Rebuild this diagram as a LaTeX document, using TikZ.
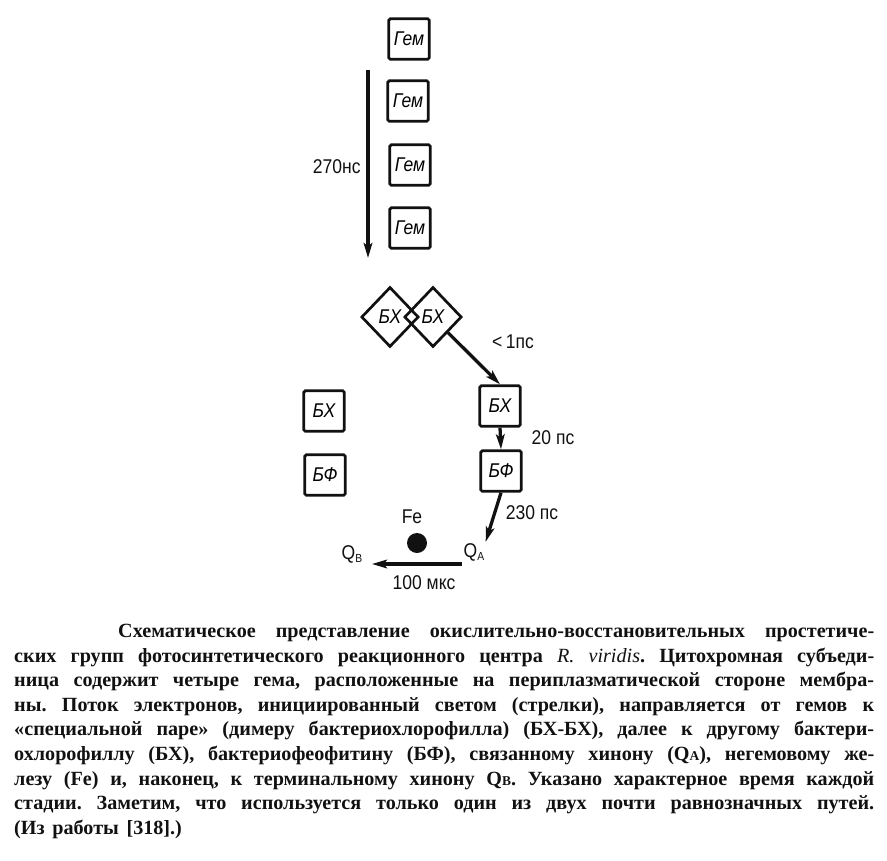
\documentclass[tikz,border=0pt]{standalone}
\usepackage{fontspec}
\setmainfont{Liberation Serif}
\newfontfamily\labfont[FakeStretch=0.88]{Liberation Sans}
\usepackage{tikz}
\usetikzlibrary{arrows.meta,positioning,calc,shapes.geometric}
\definecolor{ink}{HTML}{111111}
\newcommand{\qsub}[1]{\raisebox{-0.35ex}{\fontsize{10}{10}\selectfont #1}}
\newcommand{\capsub}[1]{{\fontsize{11.5}{11.5}\selectfont #1}}
\tikzset{
  grp/.style={draw=ink, line width=2.3pt, rounded corners=1.5pt, minimum width=1.22cm,
    minimum height=1.22cm, inner sep=0pt, font=\labfont\itshape\fontsize{17}{17}\selectfont},
  pair/.style={diamond, draw=ink, line width=2.3pt, minimum width=1.72cm, minimum height=1.8cm,
    inner sep=0pt, font=\labfont\itshape\fontsize{17}{17}\selectfont},
  rate/.style={text=ink, inner sep=1pt, font=\labfont\fontsize{17}{17}\selectfont},
  flow/.style={->, ink, line width=2.8pt},
  caption/.style={text=ink, inner sep=0pt, text width=25.8cm, align=justify,
    font=\bfseries\fontsize{17.2}{21}\selectfont},
}

\begin{document}
\begin{tikzpicture}[x=0.03cm, y=-0.03cm, >={Stealth[length=4.5mm, width=2.6mm, inset=1mm]}]
\useasboundingbox (0,0) rectangle (887,861);
\node[grp] (hem1) at (409,39) {Гем};
\node[grp] (hem2) at (408,101) {Гем};
\node[grp] (hem3) at (410,165) {Гем};
\node[grp] (hem4) at (410,228) {Гем};
\coordinate (htop) at (368,70);
\coordinate (hbot) at (368,258);
\draw[flow] (htop) -- (hbot);
\node[rate, anchor=east] (t270) at (362,167) {270нс};
\node[pair] (pl) at (390,317) {БХ};
\node[pair] (pr) at (433,317) {БХ};
\node[grp] (bxl) at (324,411) {БХ};
\node[grp] (bfl) at (325,475) {БФ};
\node[grp] (bxr) at (500,406) {БХ};
\node[grp] (bfr) at (501,471) {БФ};
\draw[flow] (pr.south east) -- (bxr.north);
\node[rate] (t1) at (513,342) {<\,1пс};
\draw[flow] (bxr.south) -- (bfr.north);
\node[rate] (t20) at (553,438) {20 пс};
\node[rate] (fe) at (412,517) {Fe};
\node[circle, fill=ink, minimum size=0.6cm, inner sep=0pt] (iron) at (417,543) {};
\node[rate] (qa) at (474,552) {Q\qsub{A}};
\node[rate] (qb) at (352,554) {Q\qsub{B}};
\draw[flow] (bfr.south) -- (qa.north east);
\node[rate] (t230) at (532,513) {230 пс};
\coordinate (qstart) at (462,564);
\coordinate (qend) at (372,564);
\draw[flow] (qstart) -- (qend);
\node[rate] (t100) at (424,583) {100 мкс};
\node[caption, anchor=north west] (cap) at (14,624) {\frenchspacing\spaceskip=0.38em plus 0.6em minus 0.05em
\hspace*{3.12cm}Схематическое представление окислительно-восстановительных простетиче-\linebreak
ских групп фотосинтетического реакционного центра {\mdseries\itshape R. viridis}. Цитохромная субъеди-\linebreak
ница содержит четыре гема, расположенные на периплазматической стороне мембра-\linebreak
ны. Поток электронов, инициированный светом (стрелки), направляется от гемов к\linebreak
«специальной паре» (димеру бактериохлорофилла) (БХ-БХ), далее к другому бактери-\linebreak
охлорофиллу (БХ), бактериофеофитину (БФ), связанному хинону (Q\capsub{A}), негемовому же-\linebreak
лезу (Fe) и, наконец, к терминальному хинону Q\capsub{B}. Указано характерное время каждой\linebreak
стадии. Заметим, что используется только один из двух почти равнозначных путей.\linebreak
(Из работы [318].)};
\end{tikzpicture}
\end{document}
